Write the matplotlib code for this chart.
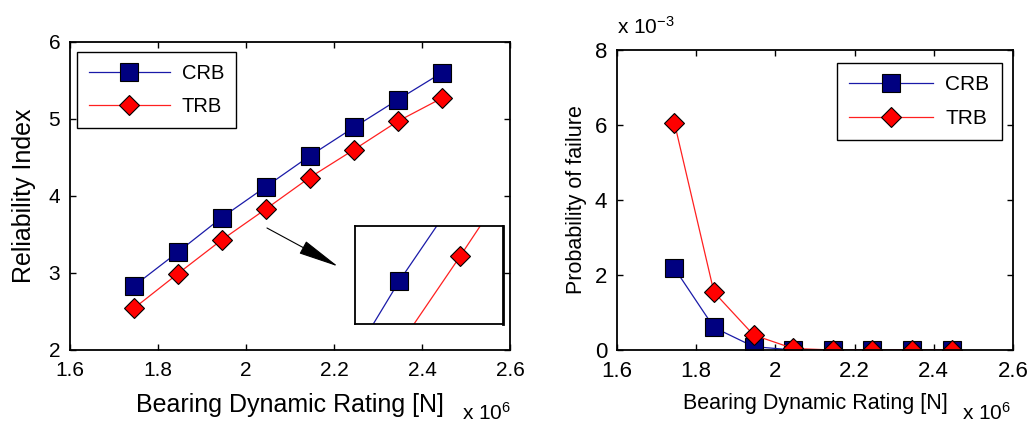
import matplotlib
matplotlib.use("Agg")
import matplotlib.pyplot as plt
from matplotlib.ticker import FormatStrFormatter

plt.rcParams['font.family'] = ['Liberation Sans', 'DejaVu Sans']
plt.rcParams['mathtext.fontset'] = 'custom'
plt.rcParams['mathtext.rm'] = 'Liberation Sans'
plt.rcParams['mathtext.default'] = 'regular'

# bearing dynamic rating, x 10^6 N
rating = [1.745, 1.845, 1.945, 2.045, 2.145, 2.245, 2.345, 2.445]

# reliability index
beta_crb = [2.83, 3.27, 3.72, 4.12, 4.52, 4.89, 5.25, 5.60]
beta_trb = [2.54, 2.99, 3.43, 3.83, 4.24, 4.60, 4.97, 5.27]

# probability of failure, x 10^-3
pf_crb = [2.18, 0.60, 0.09, 0.0, 0.0, 0.0, 0.0, 0.0]
pf_trb = [6.06, 1.54, 0.40, 0.04, 0.0, 0.0, 0.0, 0.0]

labels = ["CRB", "TRB"]

crb_style = dict(color='#1a1aa8', lw=0.9, marker='s', ms=12.5, mfc='#000080', mec='black', mew=0.8)
trb_style = dict(color='#ff2020', lw=0.9, marker='D', ms=10, mfc='#ff0000', mec='black', mew=0.8)


def matlab_axes(ax, size):
    ax.tick_params(direction='in', top=True, right=True, length=4, width=1, labelsize=size)
    ax.tick_params(axis='x', pad=8)
    ax.tick_params(axis='y', pad=7)
    for s in ax.spines.values():
        s.set_linewidth(1.3)
    ax.xaxis.set_major_formatter(FormatStrFormatter('%g'))
    ax.yaxis.set_major_formatter(FormatStrFormatter('%g'))


fig = plt.figure(figsize=(10.29, 4.25), dpi=100)

# ---- left: reliability index ----
ax1 = fig.add_axes([0.068, 0.1765, 0.4276, 0.7247])
ax1.plot(rating, beta_crb, label=labels[0], **crb_style)
ax1.plot(rating, beta_trb, label=labels[1], **trb_style)
ax1.set_xlim(1.6, 2.6)
ax1.set_ylim(2, 6)
ax1.set_xticks([1.6, 1.8, 2.0, 2.2, 2.4, 2.6])
ax1.set_yticks([2, 3, 4, 5, 6])
matlab_axes(ax1, 15)
ax1.set_xlabel("Bearing Dynamic Rating [N]", fontsize=18, labelpad=9)
ax1.set_ylabel("Reliability Index", fontsize=18, labelpad=9)
leg1 = ax1.legend(loc='upper left', bbox_to_anchor=(0.016, 0.967), borderaxespad=0,
                  fontsize=14.5, handlelength=4, handletextpad=0.6, labelspacing=0.7,
                  borderpad=0.6, fancybox=False, edgecolor='black', framealpha=1)
leg1.get_frame().set_linewidth(1.0)
fig.text(0.449, 0.012, r"x 10$^{6}$", fontsize=15)

# zoomed inset
axin = fig.add_axes([0.345, 0.2376, 0.1438, 0.2306])
axin.plot(rating, beta_crb, **crb_style)
axin.plot(rating, beta_trb, **trb_style)
axin.set_xlim(1.8718, 2.1157)
axin.set_ylim(3.526, 3.966)
axin.set_xticks([])
axin.set_yticks([])
for s in axin.spines.values():
    s.set_linewidth(1.3)
axin.spines['right'].set_linewidth(2)

ax1.annotate("", xy=(0.6091, 0.2714), xycoords='axes fraction',
             xytext=(0.4477, 0.3961), textcoords='axes fraction',
             arrowprops=dict(arrowstyle='-|>,head_length=2.6,head_width=0.45',
                             color='black', lw=0.8, shrinkA=0, shrinkB=0))

# ---- right: probability of failure ----
ax2 = fig.add_axes([0.5996, 0.1765, 0.3848, 0.7059])
ax2.plot(rating, pf_crb, label=labels[0], **crb_style)
ax2.plot(rating, pf_trb, label=labels[1], **trb_style)
ax2.set_xlim(1.6, 2.6)
ax2.set_ylim(0, 8)
ax2.set_xticks([1.6, 1.8, 2.0, 2.2, 2.4, 2.6])
ax2.set_yticks([0, 2, 4, 6, 8])
matlab_axes(ax2, 16)
ax2.set_xlabel("Bearing Dynamic Rating [N]", fontsize=15.5, labelpad=8)
ax2.set_ylabel("Probability of failure", fontsize=15.5, labelpad=6)
leg2 = ax2.legend(loc='upper right', bbox_to_anchor=(0.972, 0.957), borderaxespad=0,
                  fontsize=15, handlelength=4, handletextpad=0.6, labelspacing=0.7,
                  borderpad=0.6, fancybox=False, edgecolor='black', framealpha=1)
leg2.get_frame().set_linewidth(1.0)
fig.text(0.935, 0.012, r"x 10$^{6}$", fontsize=15)
fig.text(0.5996, 0.92, r"x 10$^{-3}$", fontsize=15)

fig.savefig("out.png", dpi=100)
